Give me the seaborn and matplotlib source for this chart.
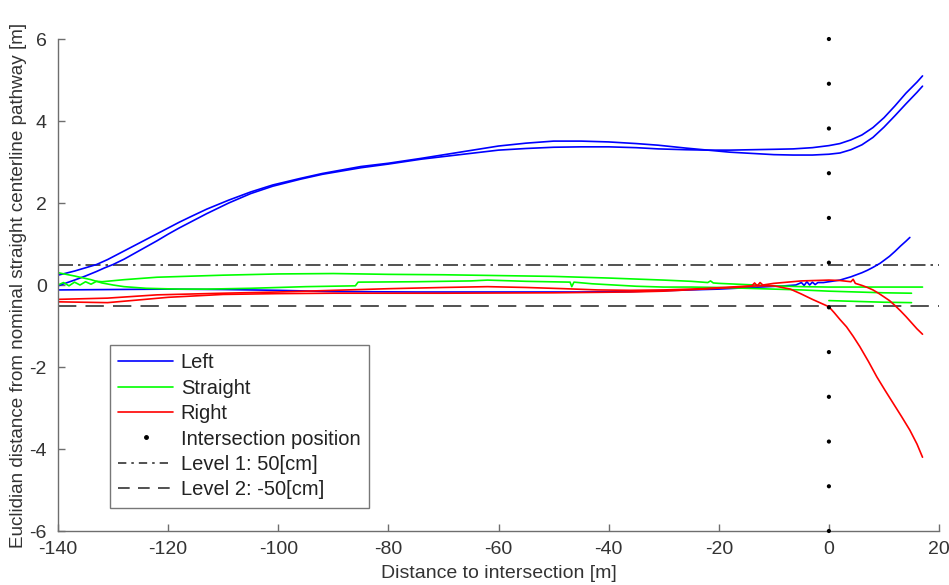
import matplotlib
matplotlib.use("Agg")
import matplotlib.pyplot as plt
from matplotlib.lines import Line2D
import seaborn as sns
import pandas as pd

# ---------------- data ----------------
left_a_x = [-140, -137, -135, -133, -131, -129, -127, -125, -122, -120, -118, -116, -113, -109, -105, -101, -96, -92, -85, -80, -74, -67, -60, -55, -50, -45, -40, -35, -31, -26, -22, -18, -14, -10, -6.5, -3, 0, 2, 4, 6, 8, 10, 12, 14, 16, 17]
left_a_y = [0.24, 0.34, 0.42, 0.5, 0.62, 0.76, 0.9, 1.04, 1.25, 1.39, 1.53, 1.66, 1.85, 2.07, 2.27, 2.44, 2.6, 2.72, 2.89, 2.97, 3.09, 3.24, 3.39, 3.46, 3.51, 3.51, 3.49, 3.45, 3.41, 3.34, 3.29, 3.24, 3.21, 3.18, 3.17, 3.17, 3.19, 3.22, 3.3, 3.42, 3.6, 3.85, 4.13, 4.42, 4.7, 4.85]

left_b_x = [-140, -137, -135, -133, -131.5, -130, -128, -126, -124, -122, -120, -118, -116, -113, -109, -105, -101, -96, -92, -85, -80, -74, -67, -60, -55, -50, -45, -40, -35, -31, -26, -22, -18, -14, -10, -6.5, -3, 0, 2, 4, 6, 8, 10, 12, 14, 16, 17]
left_b_y = [-0.02, 0.12, 0.22, 0.33, 0.42, 0.5, 0.63, 0.78, 0.93, 1.08, 1.24, 1.39, 1.53, 1.74, 2.0, 2.23, 2.41, 2.58, 2.7, 2.86, 2.95, 3.07, 3.18, 3.29, 3.33, 3.36, 3.37, 3.37, 3.35, 3.32, 3.3, 3.29, 3.29, 3.3, 3.31, 3.32, 3.35, 3.4, 3.45, 3.54, 3.66, 3.84, 4.08, 4.37, 4.68, 4.95, 5.1]

left_c_x = [-140, -130, -120, -110, -100, -90, -75, -60, -45, -36, -28, -20, -14, -11, -8, -6, -5, -4.5, -4, -3.5, -3, -2.5, -2, -1, 0, 2, 4, 6, 7, 8, 9.3, 10, 11, 12, 13, 14, 14.7]
left_c_y = [-0.12, -0.11, -0.1, -0.11, -0.13, -0.16, -0.17, -0.17, -0.17, -0.16, -0.13, -0.1, -0.06, -0.04, -0.02, 0.0, 0.06, -0.01, 0.08, 0.0, 0.07, 0.01, 0.06, 0.06, 0.08, 0.12, 0.2, 0.3, 0.36, 0.43, 0.53, 0.6, 0.7, 0.82, 0.95, 1.07, 1.16]

straight_a_x = [-140, -137, -134, -132, -130, -128, -124, -118, -113, -105, -95, -86, -85.5, -75, -65, -62, -55, -47, -46.7, -46.3, -43, -35, -30, -25, -20, -15, -10, -5, 0, 5, 10, 15]
straight_a_y = [0.30, 0.22, 0.13, 0.05, 0.0, -0.04, -0.08, -0.1, -0.1, -0.08, -0.04, -0.02, 0.07, 0.08, 0.1, 0.12, 0.09, 0.07, -0.04, 0.07, 0.03, -0.03, -0.05, -0.05, -0.06, -0.08, -0.1, -0.12, -0.15, -0.17, -0.19, -0.2]

straight_b_x = [-140, -139, -138, -137, -136, -135, -134, -133, -132, -128, -122, -110, -100, -90, -80, -70, -60, -50, -40, -30, -25, -22, -21.5, -21, -20, -15, -10, -5, 0, 5, 10, 17]
straight_b_y = [0.0, 0.06, -0.02, 0.07, 0.0, 0.08, 0.02, 0.09, 0.08, 0.13, 0.19, 0.24, 0.27, 0.28, 0.26, 0.25, 0.23, 0.21, 0.17, 0.12, 0.09, 0.06, 0.1, 0.05, 0.04, 0.01, -0.02, -0.04, -0.05, -0.05, -0.05, -0.05]

straight_c_x = [0, 5, 10, 15]
straight_c_y = [-0.38, -0.4, -0.42, -0.43]

right_a_x = [-140, -131, -122, -110, -100, -90, -80, -70, -62, -55, -48, -42, -36, -30, -23, -18, -14, -13.5, -13, -12.5, -12, -10, -5, 0, 2, 4, 4.4, 4.8, 6, 7, 8, 9, 9.9, 11, 12, 13, 14, 15, 16, 17]
right_a_y = [-0.35, -0.32, -0.24, -0.2, -0.17, -0.13, -0.09, -0.06, -0.04, -0.06, -0.09, -0.12, -0.13, -0.12, -0.09, -0.05, -0.02, 0.05, -0.02, 0.06, 0.0, 0.04, 0.1, 0.12, 0.11, 0.08, 0.14, 0.04, -0.01, -0.06, -0.12, -0.2, -0.28, -0.38, -0.5, -0.63, -0.77, -0.92, -1.07, -1.2]

right_b_x = [-140, -131, -125, -120, -110, -100, -90, -70, -50, -36, -30, -23, -16, -13, -10, -7, -5, -3, -1, 0, 1, 2, 3.2, 4.4, 5.6, 7.2, 8.7, 10.2, 11.7, 13.2, 14.7, 16, 17]
right_b_y = [-0.41, -0.43, -0.36, -0.3, -0.23, -0.21, -0.2, -0.2, -0.19, -0.17, -0.15, -0.1, -0.05, -0.02, -0.02, -0.1, -0.22, -0.35, -0.47, -0.53, -0.68, -0.84, -1.02, -1.25, -1.5, -1.87, -2.24, -2.57, -2.89, -3.21, -3.54, -3.88, -4.2]

intersection_x = [0, 0, 0, 0, 0, 0, 0, 0, 0, 0, 0, 0]
intersection_y = [6.0, 4.909, 3.818, 2.727, 1.636, 0.545, -0.545, -1.636, -2.727, -3.818, -4.909, -6.0]

level1 = 0.5
level2 = -0.5

x_ticks = [-140, -120, -100, -80, -60, -40, -20, 0, 20]
y_ticks = [-6, -4, -2, 0, 2, 4, 6]

# ---------------- build long-form table ----------------
trials = [
    ("Left", "L1", left_a_x, left_a_y),
    ("Left", "L2", left_b_x, left_b_y),
    ("Left", "L3", left_c_x, left_c_y),
    ("Straight", "S1", straight_a_x, straight_a_y),
    ("Straight", "S2", straight_b_x, straight_b_y),
    ("Straight", "S3", straight_c_x, straight_c_y),
    ("Right", "R1", right_a_x, right_a_y),
    ("Right", "R2", right_b_x, right_b_y),
]
rows = []
for direction, tid, xs, ys in trials:
    for xv, yv in zip(xs, ys):
        rows.append({"direction": direction, "trial": tid, "x": xv, "y": yv})
df = pd.DataFrame(rows)
pts = pd.DataFrame({"x": intersection_x, "y": intersection_y})

palette = {"Left": "#0000ff", "Straight": "#00ff00", "Right": "#ff0000"}
dashdot = (0, (9, 3, 1.5, 3))
dashed = (0, (11, 5.5))

# ---------------- plotting ----------------
sns.set_theme(style="white")
plt.rcParams["font.family"] = ["Liberation Sans", "DejaVu Sans"]

fig = plt.figure(figsize=(9.49, 5.85), dpi=100)
ax = fig.add_axes([0.0611, 0.0923, 0.9284, 0.8410])

sns.lineplot(data=df, x="x", y="y", hue="direction", units="trial",
             estimator=None, sort=False, palette=palette, linewidth=1.2,
             legend=False, ax=ax)

ax.axhline(level1, color="#333333", linestyle=dashdot, linewidth=1.2, zorder=1)
ax.axhline(level2, color="#333333", linestyle=dashed, linewidth=1.2, zorder=1)

sns.scatterplot(data=pts, x="x", y="y", color="black", s=9, marker="o",
                edgecolor="none", ax=ax, clip_on=False, zorder=5, legend=False)

ax.set_xlim(-140, 20)
ax.set_ylim(-6, 6)
ax.set_xticks(x_ticks)
ax.set_yticks(y_ticks)
ax.set_xticklabels([str(t) for t in x_ticks])
ax.set_yticklabels([str(t) for t in y_ticks])

for s in ["top", "right"]:
    ax.spines[s].set_visible(False)
for s in ["left", "bottom"]:
    ax.spines[s].set_color("#6e6e6e")
    ax.spines[s].set_linewidth(1.0)

ax.tick_params(axis="both", direction="in", length=5, width=1, color="#6e6e6e",
               labelsize=14, labelcolor="#333333", left=True, bottom=True)
ax.tick_params(axis="x", pad=7)
ax.tick_params(axis="y", pad=8)

ax.set_xlabel("Distance to intersection [m]", fontsize=14, color="#333333", labelpad=5)
ax.set_ylabel("Euclidian distance from nominal straight centerline pathway [m]",
              fontsize=13.6, color="#333333", labelpad=2)

handles = [
    Line2D([], [], color=palette["Left"], linewidth=1.2),
    Line2D([], [], color=palette["Straight"], linewidth=1.2),
    Line2D([], [], color=palette["Right"], linewidth=1.2),
    Line2D([], [], color="black", linestyle="none", marker="o", markersize=2.5),
    Line2D([], [], color="#333333", linestyle=(0, (5, 3, 1.5, 3)), linewidth=1.2),
    Line2D([], [], color="#333333", linestyle=(0, (7, 5)), linewidth=1.2),
]
labels = ["Left", "Straight", "Right", "Intersection position",
          "Level 1: 50[cm]", "Level 2: -50[cm]"]
leg = ax.legend(handles, labels, loc="lower left", bbox_to_anchor=(0.059, 0.047),
                fontsize=14.5, frameon=True, fancybox=False, handlelength=2.7,
                handletextpad=0.4, labelspacing=0.32, borderpad=0.42,
                borderaxespad=0)
leg.get_frame().set_edgecolor("#555555")
leg.get_frame().set_linewidth(1.0)
for t in leg.get_texts():
    t.set_color("#222222")

fig.savefig("out.png", dpi=100)
